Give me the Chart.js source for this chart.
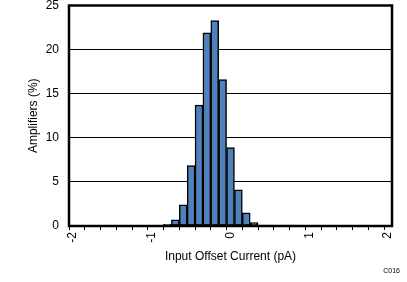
<!DOCTYPE html>
<html>
<head>
<meta charset="utf-8">
<script src="https://cdn.jsdelivr.net/npm/chart.js@4"></script>
<style>
  html, body { margin: 0; padding: 0; background: #fff; }
  #wrap { width: 407px; height: 282px; }
</style>
</head>
<body>
<div id="wrap"><canvas id="histChart" width="407" height="282"></canvas></div>
<script>
// bin centres (pA) and share of amplifiers (%)
const binCenters = [-0.85, -0.75, -0.65, -0.55, -0.45, -0.35, -0.25, -0.15, -0.05,
                    0.05, 0.15, 0.25, 0.35, 0.45, 0.55, 0.65, 0.75, 0.85];
const percentAmps = [0.05, 0.2, 0.7, 2.4, 6.85, 13.7, 21.9, 23.3, 16.6,
                     8.9, 4.1, 1.5, 0.4, 0.1, 0.1, 0, 0.1, 0.1];
// x tick marks every 0.2, labels only on whole numbers
const xTickValues = [-2, -1.8, -1.6, -1.4, -1.2, -1, -0.8, -0.6, -0.4, -0.2, 0,
                     0.2, 0.4, 0.6, 0.8, 1, 1.2, 1.4, 1.6, 1.8, 2];
const yTickValues = [0, 5, 10, 15, 20, 25];

const fontFamily = '"Liberation Sans", Arial, Helvetica, sans-serif';

// frame around the plot area + the small figure code
const framePlugin = {
    id: 'frame',
    afterDraw(chart) {
        const ctx = chart.ctx;
        const a = chart.chartArea;
        ctx.save();
        ctx.strokeStyle = '#000';
        ctx.lineWidth = 2.5;
        ctx.strokeRect(a.left, a.top, a.right - a.left, a.bottom - a.top);
        ctx.fillStyle = '#000';
        ctx.font = '7px ' + fontFamily;
        ctx.textAlign = 'right';
        ctx.textBaseline = 'middle';
        ctx.fillText('C016', 400, 271);
        ctx.restore();
    }
};

const ctx = document.getElementById('histChart').getContext('2d');
const histChart = new Chart(ctx, {
    type: 'bar',
    data: {
        datasets: [{
            data: binCenters.map((c, i) => ({ x: c, y: percentAmps[i] })),
            backgroundColor: '#4F81BD',
            borderColor: '#000',
            borderWidth: 1.5,
            borderSkipped: false,
            barPercentage: 1,
            categoryPercentage: 1,
            grouped: false
        }]
    },
    options: {
        responsive: false,
        animation: false,
        layout: { padding: { left: 26, right: 15, top: 5.5, bottom: 18 } },
        plugins: {
            legend: { display: false },
            tooltip: { enabled: false }
        },
        scales: {
            x: {
                type: 'linear',
                min: -2,
                max: 2.1,
                offset: false,
                afterBuildTicks: axis => {
                    axis.ticks = xTickValues.map(v => ({ value: v }));
                },
                afterFit: scale => {
                    scale.height = 38;
                    scale.paddingLeft = 0;
                    scale.paddingRight = 0;
                },
                border: { display: false },
                grid: {
                    offset: false,
                    drawOnChartArea: false,
                    drawTicks: true,
                    tickLength: 4,
                    color: '#000',
                    lineWidth: 1
                },
                ticks: {
                    autoSkip: false,
                    minRotation: 90,
                    maxRotation: 90,
                    padding: 2,
                    labelOffset: 4,
                    color: '#000',
                    font: { family: fontFamily, size: 12 },
                    callback: v => Math.abs(v - Math.round(v)) < 1e-6 ? String(Math.round(v)) : ''
                },
                title: {
                    display: true,
                    text: 'Input Offset Current (pA)',
                    color: '#000',
                    font: { family: fontFamily, size: 12 },
                    padding: { top: 0, bottom: 0 }
                }
            },
            y: {
                min: 0,
                max: 25,
                afterBuildTicks: axis => {
                    axis.ticks = yTickValues.map(v => ({ value: v }));
                },
                afterFit: scale => {
                    scale.width = 43;
                    scale.paddingTop = 0;
                    scale.paddingBottom = 0;
                },
                border: { display: false },
                grid: {
                    drawTicks: false,
                    color: '#000',
                    lineWidth: 1
                },
                ticks: {
                    padding: 10,
                    color: '#000',
                    font: { family: fontFamily, size: 12 }
                },
                title: {
                    display: true,
                    text: 'Amplifiers (%)',
                    color: '#000',
                    font: { family: fontFamily, size: 12 },
                    padding: { top: 0, bottom: 0 }
                }
            }
        }
    },
    plugins: [framePlugin]
});
</script>
</body>
</html>
